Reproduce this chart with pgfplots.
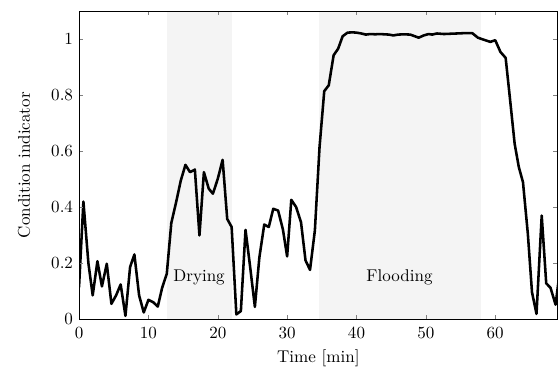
\documentclass[border=0pt]{standalone}
\usepackage{pgfplots}
\pgfplotsset{compat=1.18}
\definecolor{shade}{RGB}{244,244,244}
\begin{document}
\begin{tikzpicture}
\begin{axis}[
  scale only axis,
  width=281pt, height=180.9pt,
  xmin=0, xmax=69, ymin=0, ymax=1.1,
  xtick={0,10,...,60},
  ytick={0,0.2,...,1},
  yticklabels={0,0.2,0.4,0.6,0.8,1},
  major tick length=2.5pt,
  axis on top,
  xlabel={Time [min]},
  ylabel={Condition indicator},
  xticklabel style={yshift=-1.3pt},
  xlabel style={at={(axis description cs:0.5,0)}, anchor=base, yshift=-25.6pt},
  every axis y label/.style={at={(axis description cs:0,0.5)}, xshift=-28.8pt, anchor=base, rotate=90},
]
\addplot[draw=none, fill=shade] coordinates {(12.65,0) (12.65,1.1) (22.0,1.1) (22.0,0)} -- cycle;
\addplot[draw=none, fill=shade] coordinates {(34.6,0) (34.6,1.1) (58.0,1.1) (58.0,0)} -- cycle;
\addplot[black, line width=1.5pt, line join=round] coordinates {
(0.00,0.114) (0.63,0.420) (1.35,0.200) (1.97,0.085) (2.65,0.207) (3.30,0.117)
(4.00,0.198) (4.67,0.055) (5.34,0.085) (6.00,0.124) (6.69,0.012) (7.36,0.186)
(7.98,0.231) (8.66,0.085) (9.33,0.024) (10.00,0.069) (10.68,0.061) (11.35,0.045)
(11.98,0.112) (12.65,0.162) (13.30,0.343) (14.00,0.418) (14.67,0.495) (15.34,0.551)
(16.00,0.525) (16.70,0.534) (17.36,0.299) (18.00,0.525) (18.70,0.466) (19.30,0.448)
(20.00,0.501) (20.70,0.569) (21.36,0.358) (22.00,0.329) (22.68,0.017) (23.33,0.029)
(24.00,0.319) (24.67,0.186) (25.35,0.044) (26.00,0.221) (26.70,0.338) (27.35,0.329)
(28.00,0.394) (28.70,0.388) (29.40,0.319) (30.00,0.224) (30.60,0.426) (31.30,0.400)
(32.00,0.346) (32.65,0.210) (33.30,0.176) (34.00,0.317) (34.67,0.614) (35.35,0.814)
(36.00,0.835) (36.70,0.942) (37.36,0.966) (38.00,1.010) (38.70,1.023) (39.40,1.024)
(40.00,1.023) (40.70,1.020) (41.35,1.016) (42.00,1.018) (42.70,1.017) (43.30,1.018)
(44.00,1.017) (44.70,1.016) (45.30,1.013) (46.00,1.016) (46.80,1.017) (47.76,1.016)
(48.96,1.005) (49.70,1.013) (50.40,1.018) (50.90,1.016) (51.60,1.020) (52.60,1.018)
(53.50,1.019) (54.50,1.020) (55.40,1.021) (56.70,1.021) (57.50,1.005) (58.30,0.998)
(59.30,0.990) (60.00,0.996) (60.75,0.954) (61.50,0.933) (62.10,0.793) (62.80,0.626)
(63.40,0.543) (64.00,0.489) (64.70,0.305) (65.30,0.096) (65.95,0.019) (66.70,0.370)
(67.35,0.128) (67.97,0.112) (68.70,0.052) (69.20,0.150)
};
\node at (axis cs:17.3,0.15) {Drying};
\node at (axis cs:46.2,0.15) {Flooding};
\end{axis}
\path ([xshift=-46.4pt,yshift=-28.4pt]current axis.south west) rectangle ([yshift=6.5pt]current axis.north east);
\end{tikzpicture}
\end{document}
